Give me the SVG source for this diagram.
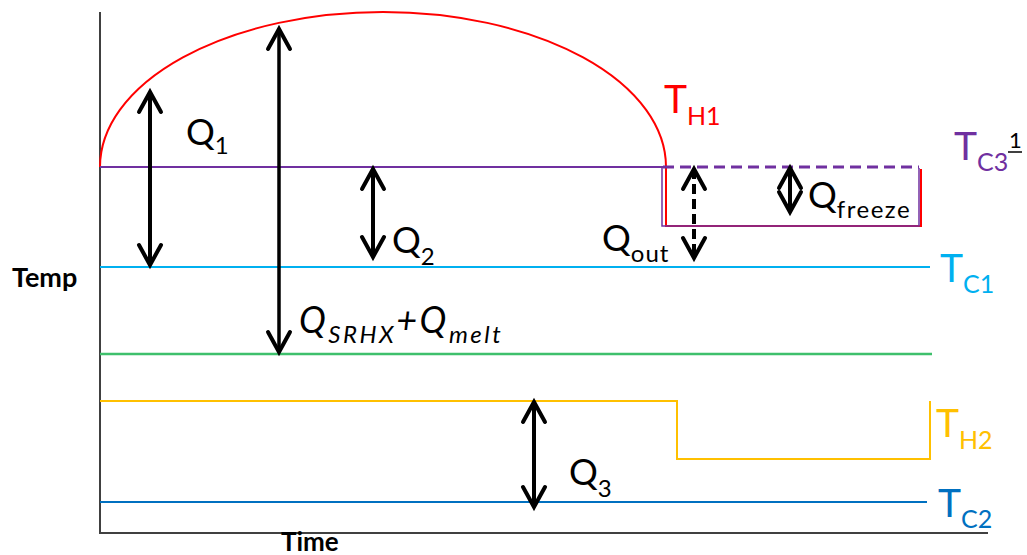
<svg xmlns="http://www.w3.org/2000/svg" width="1027" height="555" viewBox="0 0 1027 555">
<style>
text{font-family:Lato,"Liberation Sans",sans-serif;}
.lbl{font-size:36px;fill:#000;}
.sub{font-size:24px;}
.tl{font-size:39px;}
.tsub{font-size:25px;}
.ax{stroke:#404040;stroke-width:2;fill:none;}
.arr{stroke:#000;stroke-width:4;fill:none;}
.thin{stroke-width:3.5;}
</style>
<defs>
<marker id="chev" viewBox="-25 -15 30 30" markerUnits="userSpaceOnUse" markerWidth="30" markerHeight="30" refX="0" refY="0" orient="auto-start-reverse" overflow="visible">
<path d="M-20,-11 L0,0 L-20,11" fill="none" stroke="#000" stroke-width="4" stroke-linecap="round" stroke-linejoin="miter"/>
</marker>
</defs>
<g id="axes">
<path class="ax" d="M100,12 V533 H988"/>
<text x="12" y="287" font-size="27" font-weight="bold">Temp</text>
<text x="281" y="551" font-size="26" font-weight="bold">Time</text>
</g>
<g id="TH1">
<path d="M100,167 A283,155 0 0 1 666,167 V226 H921 V169" fill="none" stroke="#FF0000" stroke-width="2"/>
<text x="664" y="113" class="tl" fill="#FF0000">T<tspan class="tsub" dy="12">H1</tspan></text>
</g>
<g id="TC3">
<path d="M100,167 H663" stroke="#7030A0" stroke-width="2" fill="none"/>
<path d="M663,167 H919" stroke="#7030A0" stroke-width="3" stroke-dasharray="11,6" fill="none"/>
<path d="M919,168 V226 H662 V168" stroke="#7030A0" stroke-width="1.5" fill="none"/>
<text x="954" y="160" class="tl" fill="#7030A0">T<tspan class="tsub" dy="11">C3</tspan></text>
<text x="1009" y="148" font-size="22" fill="#000">1</text>
<path d="M1008,152 H1022" stroke="#000" stroke-width="1.5"/>
</g>
<g id="TC1">
<path d="M100,267 H930" stroke="#00B0F0" stroke-width="2"/>
<text x="940" y="282" class="tl" fill="#00B0F0">T<tspan class="tsub" dy="11">C1</tspan></text>
</g>
<g id="green">
<path d="M100,354 H932" stroke="#3EC06C" stroke-width="2.5"/>
</g>
<g id="TH2">
<path d="M100,401 H677 V459 H930 V401" stroke="#FFC000" stroke-width="2" fill="none"/>
<text x="936" y="437" class="tl" fill="#FFC000">T<tspan class="tsub" dy="12">H2</tspan></text>
</g>
<g id="TC2">
<path d="M100,502 H927" stroke="#0070C0" stroke-width="2"/>
<text x="938" y="517" class="tl" fill="#0070C0">T<tspan class="tsub" dy="11">C2</tspan></text>
</g>
<g id="connectors">
<path class="arr" d="M150,92 V265" marker-start="url(#chev)" marker-end="url(#chev)"/>
<path class="arr thin" d="M279,29 V352" marker-start="url(#chev)" marker-end="url(#chev)"/>
<path class="arr" d="M373,169 V257" marker-start="url(#chev)" marker-end="url(#chev)"/>
<path class="arr" d="M534,402 V507" marker-start="url(#chev)" marker-end="url(#chev)"/>
<path class="arr" d="M694,169 V258" stroke-dasharray="10,5" marker-start="url(#chev)" marker-end="url(#chev)"/>
<path class="arr" d="M790,168 V212" marker-start="url(#chev)" marker-end="url(#chev)"/>
</g>
<g id="labels">
<text x="186" y="145" class="lbl">Q<tspan class="sub" dy="9">1</tspan></text>
<text x="392" y="253" class="lbl">Q<tspan class="sub" dy="12">2</tspan></text>
<text x="299" y="333" class="lbl" font-size="42" font-style="italic" letter-spacing="2.5">Q<tspan class="sub" font-size="30" dy="10">SRHX</tspan><tspan dy="-10">+Q</tspan><tspan class="sub" font-size="30" dy="10">melt</tspan></text>
<text x="569" y="485" class="lbl">Q<tspan class="sub" dy="12">3</tspan></text>
<text x="602" y="251" class="lbl">Q<tspan class="sub" font-size="27" dy="11" letter-spacing="1">out</tspan></text>
<text x="808" y="208" class="lbl">Q<tspan class="sub" font-size="27" dy="10" letter-spacing="1.5">freeze</tspan></text>
</g>
</svg>
